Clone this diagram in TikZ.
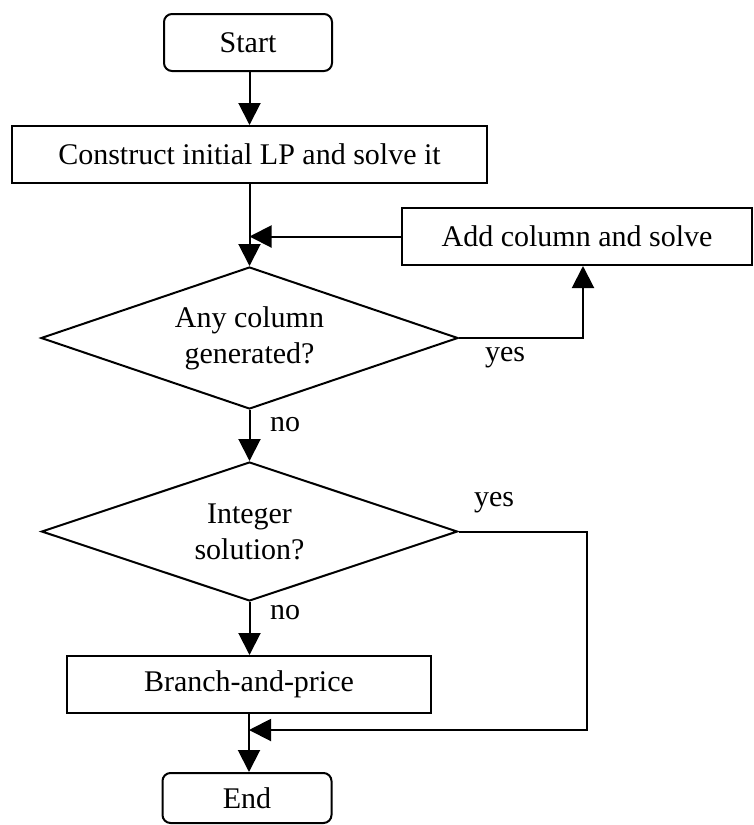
\documentclass[tikz,border=0pt]{standalone}
\usepackage{fontspec}
\setmainfont{Liberation Serif}
\usetikzlibrary{shapes.geometric,arrows.meta}
\begin{document}
\begin{tikzpicture}[x=1pt,y=-1pt,
  every node/.style={font=\fontsize{30}{36}\selectfont},
  box/.style={draw,line width=2pt,rectangle,minimum height=57pt,inner sep=0pt},
  term/.style={box,rounded corners=8pt},
  dec/.style={draw,line width=2pt,diamond,inner sep=0pt,aspect=2.94,align=center},
  arr/.style={line width=2pt,-{Triangle[length=22pt,width=22pt]}},
  lbl/.style={inner sep=0pt}]
\useasboundingbox (0,0) rectangle (754,825);
\node[term,minimum width=168pt] (start) at (248,42.5) {Start};
\node[box,minimum width=475pt] (construct) at (249.5,154.5) {Construct initial LP and solve it};
\node[box,minimum width=350pt] (add) at (577,236.5) {Add column and solve};
\node[dec,minimum width=417pt,minimum height=142pt] (d1) at (249.5,338) {Any column\\generated?};
\node[dec,minimum width=416pt,minimum height=139pt] (d2) at (249.5,531.5) {Integer\\solution?};
\node[box,minimum width=364pt] (branch) at (249,684.5) {Branch-and-price};
\node[term,minimum width=169pt,minimum height=50pt] (end) at (247,798) {End};
\coordinate (r1) at (583,338);
\coordinate (r2) at (587,730);
\draw[arr] (start.south -| construct.north) -- (construct.north);
\draw[arr] (construct.south) -- (d1.north);
\draw[arr] (add.west) -- (add.west -| d1.north);
\draw[arr] (d1.east) -- (r1) -- (r1 |- add.south);
\node[lbl] (yes1) at (505,358) {yes};
\draw[arr] (d1.south) -- (d2.north);
\node[lbl] (no1) at (285,425) {no};
\draw[arr] (d2.east) -| (r2) -- (r2 -| branch.south);
\node[lbl] (yes2) at (494,503) {yes};
\draw[arr] (d2.south) -- (d2.south |- branch.north);
\node[lbl] (no2) at (285,613) {no};
\draw[arr] (branch.south) -- (branch.south |- end.north);
\end{tikzpicture}
\end{document}
